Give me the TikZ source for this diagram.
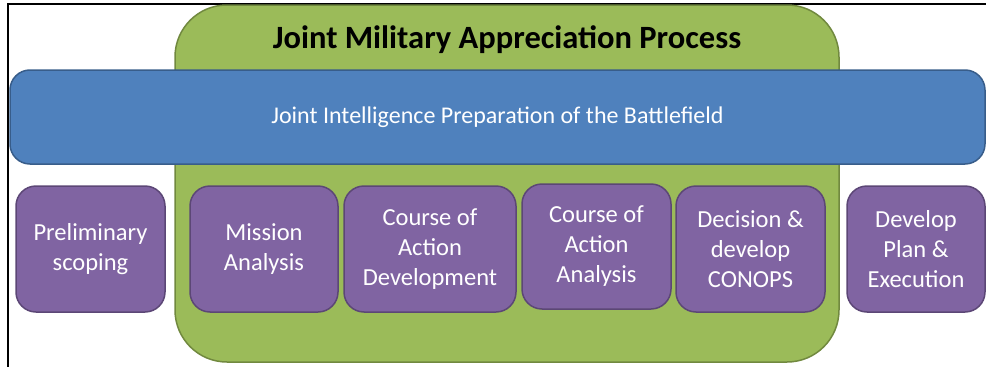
\documentclass[tikz,border=0pt]{standalone}
\usepackage{fontspec}
\setmainfont{Carlito}
\usepackage{xcolor}
\usepackage{tikz}
\usetikzlibrary{positioning}
\definecolor{JmapGreen}{RGB}{155,187,89}
\definecolor{JmapGreenLine}{RGB}{113,137,63}
\definecolor{JmapBlue}{RGB}{79,129,189}
\definecolor{JmapBlueLine}{RGB}{56,93,138}
\definecolor{JmapPurple}{RGB}{128,100,162}
\definecolor{JmapPurpleLine}{RGB}{92,71,118}
\tikzset{
    stepbox/.style={rectangle, rounded corners=20pt, draw=JmapPurpleLine, fill=JmapPurple, line width=1.5pt,
        minimum height=126pt, inner sep=0pt, align=center, text=white,
        font=\fontsize{24.5}{30}\selectfont},
}

\begin{document}
\begin{tikzpicture}[
        x=1pt, y=-1pt,
        % Khung xanh lá lớn
        processbox/.style={
            rectangle,
            rounded corners=52pt,
            draw=JmapGreenLine,
            fill=JmapGreen,
            line width=1.5pt,
            minimum width=664pt,
            minimum height=357pt
        },
        % Dải xanh dương
        bandbox/.style={
            rectangle,
            rounded corners=20pt,
            draw=JmapBlueLine,
            fill=JmapBlue,
            line width=1.5pt,
            minimum width=975pt,
            minimum height=94pt,
            text=white,
            font=\fontsize{24}{28}\selectfont
        }
    ]
        \useasboundingbox (0,0) rectangle (986,367);

        % --- KHUNG ---
        \draw[line width=2pt] (8,367) -- (8,4) -- (986,4);

        % --- JMAP ---
        \node[processbox] (jmap) at (507,183.5) {};
        \node[anchor=base, font=\fontsize{32.5}{36}\selectfont\bfseries] (title) at (507,48) {Joint Military Appreciation Process};

        % --- JIPB ---
        \node[bandbox] (jipb) at (497.5,117) {Joint Intelligence Preparation of the Battlefield};

        % --- CÁC BƯỚC ---
        \node[stepbox, minimum width=149pt] (prelim) at (90.5,249) {Preliminary\\scoping};
        \node[stepbox, minimum width=148pt] (mission) at (264,249) {Mission\\Analysis};
        \node[stepbox, minimum width=172pt] (coadev) at (430,249) {Course of\\Action\\Development};
        \node[stepbox, minimum width=149pt, minimum height=125pt] (coaana) at (596.5,246.5) {Course of\\Action\\Analysis};
        \node[stepbox, minimum width=149pt] (conops) at (750.5,249) {Decision \&\\develop\\CONOPS};
        \node[stepbox, minimum width=138pt] (plan) at (916,249) {Develop\\Plan \&\\Execution};

    \end{tikzpicture}
\end{document}
